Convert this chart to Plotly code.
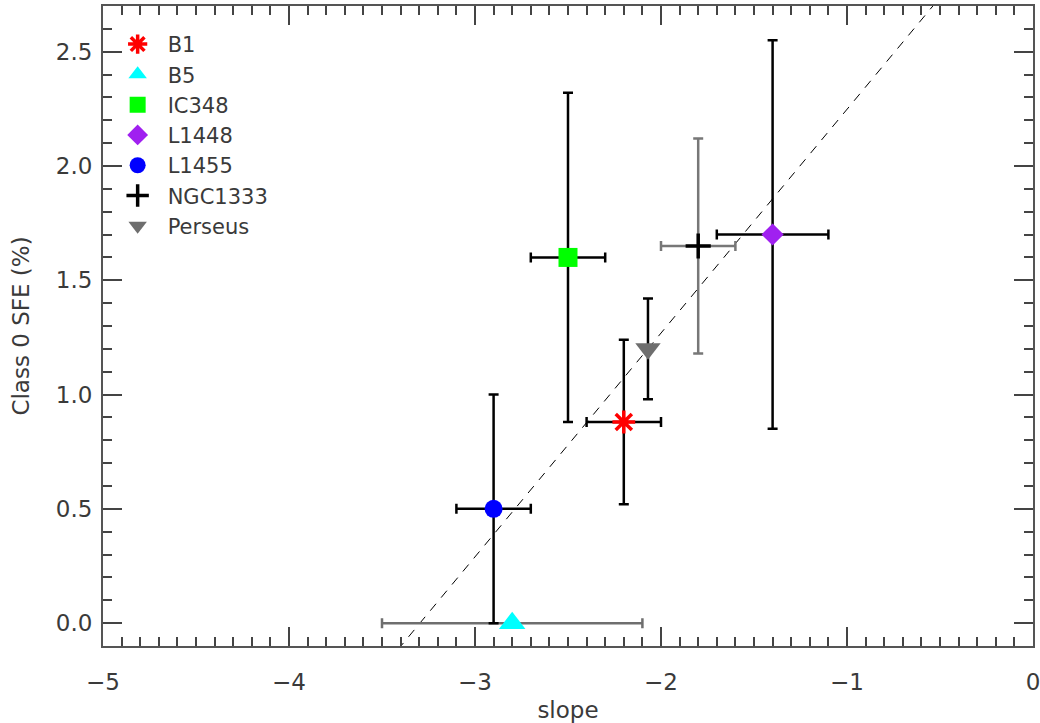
import plotly.graph_objects as go

names = ["B1", "B5", "IC348", "L1448", "L1455", "NGC1333", "Perseus"]
slope = [-2.2, -2.8, -2.5, -1.4, -2.9, -1.8, -2.07]
slope_err = [0.2, 0.7, 0.2, 0.3, 0.2, 0.2, 0.0]
sfe = [0.88, 0.0, 1.6, 1.7, 0.5, 1.65, 1.2]
sfe_err = [0.36, 0.0, 0.72, 0.85, 0.5, 0.47, 0.22]

symbols = ["asterisk-open", "triangle-up", "square", "diamond", "circle", "cross-thin-open", "triangle-down"]
colors = ["#ff0000", "#00ffff", "#00ff00", "#a020f0", "#0000ff", "#000000", "#6e6e6e"]
sizes = [19, 23, 19, 17, 18, 18, 22]
err_colors = ["#000000", "#6e6e6e", "#000000", "#000000", "#000000", "#777777", "#000000"]

fit_slope = 0.979
fit_intercept = 3.227
fit_x = [-4.0, 0.0]

FONT = "DejaVu Sans"
TXT = "#3a3a3a"
FS = 23
fig = go.Figure()

fig.add_trace(go.Scatter(
    x=fit_x, y=[fit_slope * v + fit_intercept for v in fit_x],
    mode="lines", line=dict(color="black", width=1, dash="9px,8px"),
    showlegend=False, hoverinfo="skip"))

for i, n in enumerate(names):
    open_sym = symbols[i].endswith("open")
    marker = dict(symbol=symbols[i], size=sizes[i], color=colors[i])
    if open_sym:
        marker["line"] = dict(color=colors[i], width=3.5)
    else:
        marker["line"] = dict(width=0)
    fig.add_trace(go.Scatter(
        x=[slope[i]], y=[sfe[i]], mode="markers", name=n, marker=marker,
        error_x=dict(type="data", array=[slope_err[i]], visible=slope_err[i] > 0,
                     color=err_colors[i], thickness=2.5, width=5),
        error_y=dict(type="data", array=[sfe_err[i]], visible=sfe_err[i] > 0,
                     color=err_colors[i], thickness=2.5, width=5),
    ))

axis_common = dict(
    showgrid=False, zeroline=False, showline=True, linecolor="#555", linewidth=2,
    mirror="allticks", ticks="inside", tickcolor="#444", tickwidth=1.5, ticklen=19,
    tickfont=dict(family=FONT, size=FS, color=TXT), automargin=False,
    ticklabeloverflow="allow",
)

fig.update_xaxes(range=[-5, 0], dtick=1, tick0=0, ticklabelstandoff=14,
                 minor=dict(dtick=0.1, ticks="inside", ticklen=9, tickcolor="#444", tickwidth=1.5),
                 title=dict(text="slope", font=dict(family=FONT, size=FS, color=TXT), standoff=8),
                 **axis_common)
fig.update_yaxes(range=[-0.1, 2.7], dtick=0.5, tick0=0, tickformat=".1f", ticklabelstandoff=4,
                 minor=dict(dtick=0.1, ticks="inside", ticklen=9, tickcolor="#444", tickwidth=1.5),
                 title=dict(text="Class 0 SFE (%)", font=dict(family=FONT, size=FS, color=TXT), standoff=20),
                 **axis_common)

fig.update_layout(
    width=1040, height=723,
    margin=dict(l=103, r=7, t=6, b=77),
    plot_bgcolor="white", paper_bgcolor="white",
    legend=dict(x=0.005, y=0.972, xanchor="left", yanchor="top",
                font=dict(family=FONT, size=21, color=TXT),
                bgcolor="rgba(0,0,0,0)", tracegroupgap=0, itemsizing="trace",
                itemwidth=50),
)

fig.write_html("out.html", config={"displayModeBar": False},
               post_script="document.body.style.margin='0';document.body.style.padding='0';")
